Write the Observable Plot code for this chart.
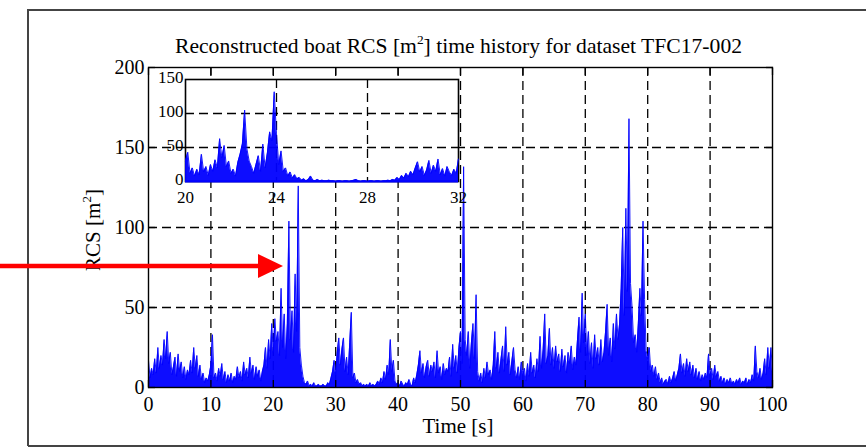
<!DOCTYPE html>
<html><head><meta charset="utf-8">
<script src="https://cdn.jsdelivr.net/npm/d3@7"></script>
<script src="https://cdn.jsdelivr.net/npm/@observablehq/plot@0.6"></script>
<style>
html,body{margin:0;padding:0;background:#fff;}
#wrap{position:relative;width:866px;height:448px;overflow:hidden;font-family:"Liberation Serif","Times New Roman",serif;}
#wrap > svg{position:absolute;left:0;top:0;}
</style></head><body><div id="wrap"></div>
<script>
// ---- data (RCS in m^2, uniformly sampled) ----
const mainStart = 0, mainStep = 0.25;   // seconds
const mainRCS = [
  17,6,12,8,18,9,25,12,20,14,30,18,35,15,22,8,13,19,7,21,
  10,16,6,13,5,11,8,17,9,25,12,20,7,14,5,9,3,6,4,8,
  14,33,6,9,4,12,7,15,5,10,3,8,4,9,3,7,5,13,6,10,
  4,16,8,12,6,19,9,14,5,13,7,11,4,10,14,25,12,30,18,40,
  22,43,29,35,20,62,25,46,18,40,104,30,48,22,71,35,126,25,14,7,
  3,2,4,1,2,1,3,1,1,2,1,1,2,1,1,3,2,6,10,17,
  8,22,31,14,24,31,10,19,8,28,47,6,9,3,5,2,3,1,2,1,
  2,1,3,1,2,1,2,4,2,6,3,10,5,14,8,30,10,17,4,2,
  3,1,4,2,1,3,2,5,2,1,6,3,8,14,23,9,15,6,13,17,
  7,14,10,16,6,23,9,13,5,15,8,12,10,19,7,27,12,20,9,25,
  35,15,138,30,20,35,12,28,40,18,58,10,4,9,3,12,6,16,8,11,
  5,14,35,12,22,9,18,26,10,38,14,22,8,17,25,11,6,13,5,16,
  8,12,4,15,7,22,9,14,6,18,10,32,12,24,46,15,20,37,14,25,
  12,26,16,21,10,24,13,20,9,22,15,26,11,19,14,30,44,22,59,28,
  46,20,35,15,28,12,33,18,25,14,30,16,22,35,52,20,31,16,40,24,
  46,30,40,62,100,45,112,60,168,65,50,28,33,22,40,62,45,104,55,23,
  18,25,10,14,7,13,5,9,3,6,2,4,5,2,7,3,6,10,4,8,
  12,21,9,15,7,18,10,16,8,14,6,12,5,10,4,8,5,9,6,21,
  8,12,5,14,7,10,4,7,3,6,2,5,3,6,2,4,2,5,3,6,
  2,4,3,6,2,5,3,8,4,26,10,6,12,5,9,18,8,25,12,25,
  10
];
const insetStart = 20, insetStep = 0.1;
const insetRCS = [
  30,43,12,20,8,18,10,40,14,22,
  9,25,15,32,20,63,35,53,22,30,
  12,18,8,28,40,55,105,48,30,22,
  12,25,38,15,55,20,42,73,60,132,
  70,25,45,15,20,8,14,5,10,4,
  6,2,4,1,3,8,2,1,3,1,
  2,1,1,2,1,1,0,1,1,0,
  1,1,0,1,2,3,1,0,1,1,
  0,1,1,0,1,1,0,1,1,2,
  1,3,2,6,3,9,5,12,7,15,
  10,20,29,14,22,9,17,31,12,24,
  15,33,10,19,8,22,14,9,18,12,
  33
];
const mainXTicks = [0,10,20,30,40,50,60,70,80,90,100];
const mainYTicks = [0,50,100,150,200];
const insetXTicks = [20,24,28,32];
const insetYTicks = [0,50,100,150];
const titleParts = ["Reconstructed boat RCS [m", "2", "] time history for dataset TFC17-002"];
const yLabelParts = ["RCS [m", "2", "]"];
const xLabel = "Time [s]";

// ---- build ----
const mainData = mainRCS.map((v, i) => ({t: mainStart + i * mainStep, v}));
const insetData = insetRCS.map((v, i) => ({t: insetStart + i * insetStep, v}));
const blue = "#0000ff";
const dash = "9,5";
const font = '"Liberation Serif","Times New Roman",serif';
const wrap = document.getElementById("wrap");

const main = Plot.plot({
  width: 866, height: 448,
  marginLeft: 148, marginRight: 94, marginTop: 67, marginBottom: 61,
  style: {fontFamily: font, fontSize: "20px", background: "transparent", color: "#000"},
  x: {domain: [0, 100], label: null},
  y: {domain: [0, 200], label: null},
  marks: [
    Plot.gridX(mainXTicks.slice(1, -1), {stroke: "#000", strokeOpacity: 1, strokeWidth: 1.3, strokeDasharray: dash}),
    Plot.gridY(mainYTicks.slice(1, -1), {stroke: "#000", strokeOpacity: 1, strokeWidth: 1.3, strokeDasharray: dash}),
    Plot.areaY(mainData, {x: "t", y: "v", fill: blue, fillOpacity: 0.95}),
    Plot.lineY(mainData, {x: "t", y: "v", stroke: blue, strokeWidth: 0.9}),
    Plot.frame({stroke: "#000", strokeWidth: 1.4}),
    Plot.axisX(mainXTicks, {anchor: "bottom", tickSize: -7, fill: "none", label: null, strokeWidth: 1.3}),
    Plot.axisX(mainXTicks, {anchor: "top", tickSize: -7, fill: "none", label: null, strokeWidth: 1.3}),
    Plot.axisY(mainYTicks, {anchor: "left", tickSize: -7, fill: "none", label: null, strokeWidth: 1.3}),
    Plot.axisY(mainYTicks, {anchor: "right", tickSize: -7, fill: "none", label: null, strokeWidth: 1.3}),
    Plot.axisX(mainXTicks, {anchor: "bottom", tickSize: 0, tickPadding: 9, label: null, stroke: "none"}),
    Plot.axisY(mainYTicks, {anchor: "left", tickSize: 0, tickPadding: 4, label: null, stroke: "none"})
  ]
});
wrap.appendChild(main);

const inset = Plot.plot({
  width: 323, height: 140,
  marginLeft: 40, marginRight: 10, marginTop: 10, marginBottom: 28,
  style: {fontFamily: font, fontSize: "17px", background: "transparent", color: "#000"},
  x: {domain: [20, 32], label: null},
  y: {domain: [0, 150], label: null},
  marks: [
    Plot.frame({fill: "#fff", stroke: null}),
    Plot.gridX(insetXTicks.slice(1, -1), {stroke: "#000", strokeOpacity: 1, strokeWidth: 1.3, strokeDasharray: dash}),
    Plot.gridY(insetYTicks.slice(1, -1), {stroke: "#000", strokeOpacity: 1, strokeWidth: 1.3, strokeDasharray: dash}),
    Plot.frame({stroke: "#000", strokeWidth: 1.6}),
    Plot.areaY(insetData, {x: "t", y: "v", fill: blue, fillOpacity: 0.95}),
    Plot.lineY(insetData, {x: "t", y: "v", stroke: blue, strokeWidth: 0.9}),
    Plot.ruleY([0], {stroke: blue, strokeWidth: 2}),
    Plot.axisX(insetXTicks, {anchor: "bottom", tickSize: 0, tickPadding: 9, label: null, stroke: "none"}),
    Plot.axisY(insetYTicks, {anchor: "left", tickSize: 0, tickPadding: 2, dy: -2, label: null, stroke: "none"})
  ]
});
inset.style.left = "145px";
inset.style.top = "69px";
wrap.appendChild(inset);

// ---- annotations: outer frame, title, axis labels, red arrow ----
const ov = d3.create("svg").attr("width", 866).attr("height", 448)
  .style("font-family", font).style("pointer-events", "none");
ov.append("path").attr("d", "M28,446V10H866M28,446H866")
  .attr("fill", "none").attr("stroke", "#444").attr("stroke-width", 2);

const title = ov.append("text").attr("x", 458.5).attr("y", 53).attr("text-anchor", "middle")
  .attr("font-size", 21).attr("fill", "#000")
  .attr("textLength", 567).attr("lengthAdjust", "spacingAndGlyphs");
title.append("tspan").text(titleParts[0]);
title.append("tspan").attr("dy", -9).attr("font-size", 13).text(titleParts[1]);
title.append("tspan").attr("dy", 9).text(titleParts[2]);

ov.append("text").attr("x", 458).attr("y", 433).attr("text-anchor", "middle")
  .attr("font-size", 21).attr("fill", "#000").text(xLabel);

const yl = ov.append("text").attr("transform", "translate(100,230) rotate(-90)")
  .attr("text-anchor", "middle").attr("font-size", 21).attr("fill", "#000");
yl.append("tspan").text(yLabelParts[0]);
yl.append("tspan").attr("dy", -9).attr("font-size", 13).text(yLabelParts[1]);
yl.append("tspan").attr("dy", 9).text(yLabelParts[2]);

ov.append("line").attr("x1", 0).attr("y1", 266).attr("x2", 262).attr("y2", 266)
  .attr("stroke", "#ff0000").attr("stroke-width", 4.5);
ov.append("polygon").attr("points", "258,254 283,266 258,278").attr("fill", "#ff0000");
wrap.appendChild(ov.node());
</script>
</body></html>
